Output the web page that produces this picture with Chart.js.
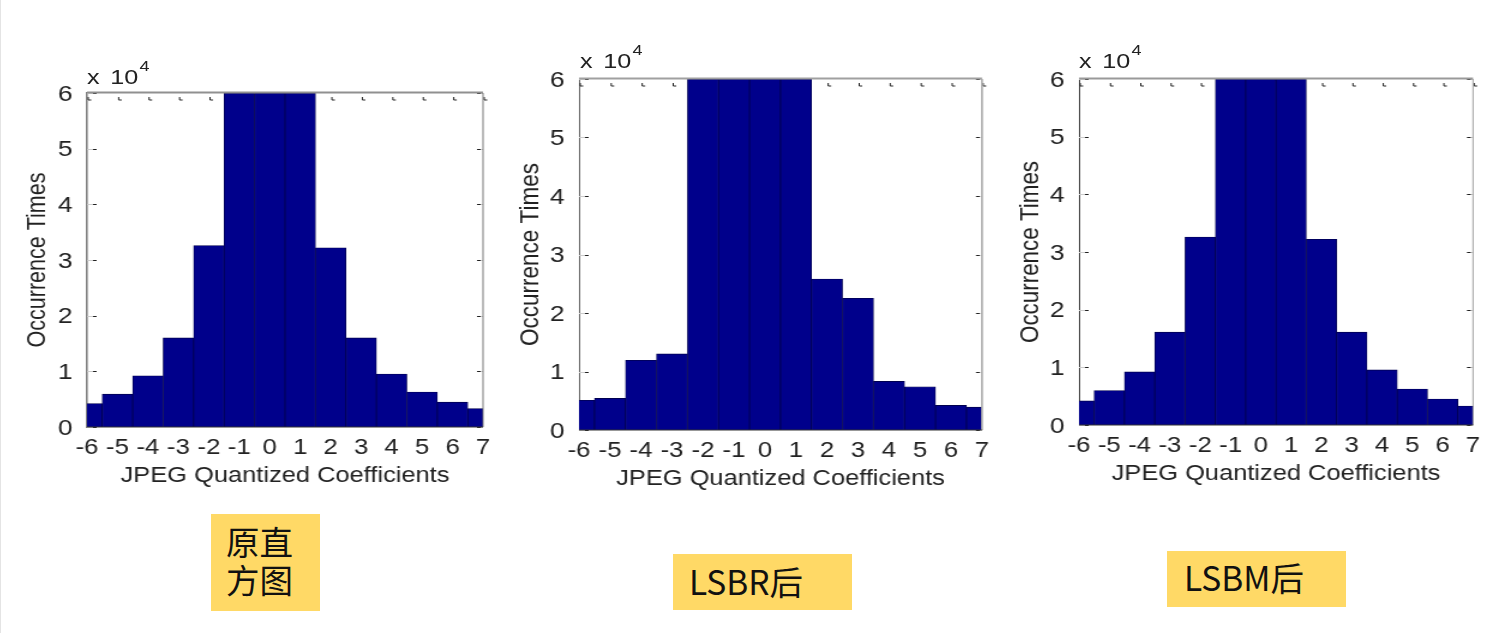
<!DOCTYPE html>
<html>
<head>
<meta charset="utf-8">
<script src="https://cdn.jsdelivr.net/npm/chart.js@4"></script>
<style>
  html, body { margin: 0; padding: 0; background: #fff; width: 1496px; height: 633px; overflow: hidden; }
  canvas { position: absolute; transform-origin: 0 0; }
  .expo { position: absolute; font: 21px "Liberation Sans", Arial, sans-serif; word-spacing: 3px; color: #222; white-space: pre; transform: scaleX(1.2); transform-origin: 0 0; }
  .expo sup { font-size: 15px; position: relative; top: -13px; vertical-align: baseline; margin-left: 1px; }
  .tag { position: absolute; background: #ffd966; color: #111; font: 33.5px/43px "Noto Sans CJK SC", sans-serif; box-sizing: border-box; }
  #edge { position: absolute; left: 0; top: 0; width: 1px; height: 633px; background: #e4e4e4; }
</style>
</head>
<body>
<div id="edge"></div>
<canvas id="c1"></canvas>
<canvas id="c2"></canvas>
<canvas id="c3"></canvas>
<div class="expo" style="left:87px;top:65px">x 10<sup>4</sup></div>
<div class="expo" style="left:580px;top:49px">x 10<sup>4</sup></div>
<div class="expo" style="left:1079px;top:49px">x 10<sup>4</sup></div>
<div class="tag" style="left:211px;top:514px;width:109px;height:97px;padding:8px 0 0 15px;line-height:38px">原直<br>方图</div>
<div class="tag" style="left:673px;top:554px;width:179px;height:56px;padding:5px 0 0 16px">LSBR后</div>
<div class="tag" style="left:1167px;top:551px;width:179px;height:56px;padding:4px 0 0 17px">LSBM后</div>
<script>
const coefficients = [-6, -5, -4, -3, -2, -1, 0, 1, 2, 3, 4, 5, 6, 7];
const original = [4200, 5900, 9200, 16000, 32600, 60000, 60000, 60000, 32200, 16000, 9500, 6260, 4460, 3300];
const lsbr = [5070, 5400, 11900, 13000, 60000, 60000, 60000, 60000, 25800, 22500, 8300, 7400, 4200, 3900];
const lsbm = [4170, 5970, 9200, 16100, 32600, 60000, 60000, 60000, 32200, 16100, 9550, 6250, 4500, 3300];
const xLabel = "JPEG Quantized Coefficients";
const yLabel = "Occurrence Times";

const barColor = "#00008b";
const edgeColor = "#000050";

// l t r b = plot box on the page
const panels = [
    { id: "c1", values: original, l: 87, t: 93, r: 483, b: 427, yTitle: 21.5, left: "#808080", leftW: 1.6, top: "#909090", right: "#666", rightW: 0.9 },
    { id: "c2", values: lsbr, l: 579, t: 79, r: 982, b: 430, yTitle: 22.5, left: "#555", leftW: 0.9, top: "#a0a0a0", right: "#aaa", rightW: 1.6 },
    { id: "c3", values: lsbm, l: 1079, t: 79, r: 1473, b: 425, yTitle: 22.4, left: "#222", leftW: 0.9, top: "#999", right: "#999", rightW: 0.9 }
];

// the original picture is stretched sideways, text included
const STRETCH = 1.2;
const AXIS_W = 55, AXIS_H = 62, PAD_T = 30, PAD_R = 16;

// inner tick marks and the frame, the way matlab draws them
const frame = (p) => ({
    id: "frame",
    beforeDatasetsDraw(chart) {
        const { ctx, chartArea: a, scales } = chart;
        ctx.save();
        ctx.lineWidth = 1;
        scales.y.ticks.forEach((t) => {
            const y = Math.round(scales.y.getPixelForValue(t.value)) + 0.5;
            ctx.strokeStyle = "#ccc";
            ctx.beginPath();
            ctx.moveTo(a.left, y); ctx.lineTo(a.left + 5, y);
            ctx.moveTo(a.right - 5, y); ctx.lineTo(a.right, y);
            ctx.stroke();
            ctx.strokeStyle = "#222";
            ctx.beginPath();
            ctx.moveTo(a.left + 5, y); ctx.lineTo(a.left + 8, y);
            ctx.moveTo(a.right - 5, y); ctx.lineTo(a.right - 2, y);
            ctx.stroke();
        });
        ctx.strokeStyle = "#222";
        scales.x.ticks.forEach((t) => {
            const x = scales.x.getPixelForValue(t.value) + 1;
            ctx.beginPath();
            ctx.moveTo(x, a.top + 4); ctx.lineTo(x, a.top + 7); ctx.lineTo(x + 2.5, a.top + 7);
            ctx.stroke();
        });
        ctx.restore();
    },
    afterDatasetsDraw(chart) {
        const { ctx, chartArea: a } = chart;
        ctx.save();
        ctx.strokeStyle = p.top;
        ctx.lineWidth = 2;
        ctx.beginPath();
        ctx.moveTo(a.left, a.top - 0.5); ctx.lineTo(a.right, a.top - 0.5);
        ctx.stroke();
        ctx.strokeStyle = p.right;
        ctx.lineWidth = p.rightW;
        ctx.beginPath();
        ctx.moveTo(a.right, a.top); ctx.lineTo(a.right, a.bottom);
        ctx.stroke();
        ctx.strokeStyle = "#333";
        ctx.lineWidth = 1;
        ctx.beginPath();
        ctx.moveTo(a.left, a.bottom); ctx.lineTo(a.right, a.bottom);
        ctx.stroke();
        ctx.restore();
    }
});

panels.forEach((p) => {
    const el = document.getElementById(p.id);
    const plotW = (p.r - p.l) / STRETCH;
    const width = Math.ceil(AXIS_W + plotW + PAD_R);
    el.width = width;
    el.height = PAD_T + (p.b - p.t) + AXIS_H;
    el.style.left = (p.l - AXIS_W * STRETCH) + "px";
    el.style.top = (p.t - PAD_T) + "px";
    el.style.width = width + "px";
    el.style.transform = "scaleX(" + STRETCH + ")";

    new Chart(el, {
        type: "bar",
        data: {
            datasets: [{
                data: coefficients.map((c, i) => ({ x: c, y: p.values[i] })),
                backgroundColor: barColor,
                borderColor: edgeColor,
                borderWidth: 0.8,
                barPercentage: 1,
                categoryPercentage: 1,
                clip: 0
            }]
        },
        options: {
            responsive: false,
            animation: false,
            layout: { padding: { left: 0, top: PAD_T, right: width - AXIS_W - plotW, bottom: 0 } },
            plugins: { legend: { display: false }, tooltip: { enabled: false } },
            scales: {
                x: {
                    type: "linear",
                    min: -6,
                    max: 7,
                    offset: false,
                    afterFit: (s) => { s.height = AXIS_H; },
                    grid: { display: false },
                    border: { display: false },
                    ticks: {
                        stepSize: 1,
                        autoSkip: false,
                        maxRotation: 0,
                        padding: 0,
                        color: "#222",
                        font: { family: "Liberation Sans", size: 21.5 }
                    },
                    title: {
                        display: true,
                        text: xLabel,
                        color: "#222",
                        padding: { top: 0, bottom: 0 },
                        font: { family: "Liberation Sans", size: 21.2 }
                    }
                },
                y: {
                    min: 0,
                    max: 60000,
                    afterFit: (s) => { s.width = AXIS_W; },
                    grid: { display: false },
                    border: { display: true, color: p.left, width: p.leftW },
                    ticks: {
                        stepSize: 10000,
                        padding: 4,
                        labelOffset: 1.5,
                        color: "#222",
                        font: { family: "Liberation Sans", size: 22 },
                        callback: (v) => v / 10000
                    },
                    title: {
                        display: true,
                        text: yLabel,
                        color: "#222",
                        padding: { top: 1, bottom: 0 },
                        font: { family: "Liberation Sans", size: p.yTitle }
                    }
                }
            }
        },
        plugins: [frame(p)]
    });
});
</script>
</body>
</html>
